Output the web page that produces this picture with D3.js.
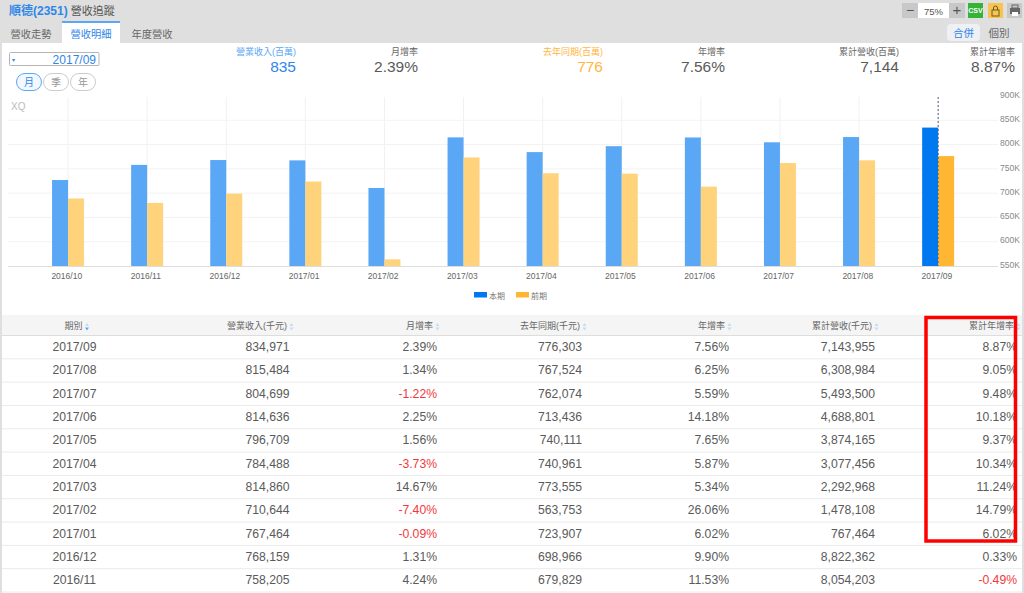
<!DOCTYPE html>
<html>
<head>
<meta charset="utf-8">
<script src="https://cdn.jsdelivr.net/npm/d3@7"></script>
<style>
  html, body { margin: 0; padding: 0; background: #fff; overflow: hidden; }
  svg { display: block; }
  text { font-family: "Liberation Sans", "Noto Sans CJK TC", sans-serif; }
</style>
</head>
<body>
<div id="chart"></div>
<script>
const months = ['2016/10', '2016/11', '2016/12', '2017/01', '2017/02', '2017/03', '2017/04', '2017/05', '2017/06', '2017/07', '2017/08', '2017/09'];
const currentValues = [727000, 758205, 768159, 767464, 710644, 814860, 784488, 796709, 814636, 804699, 815484, 834971];
const previousValues = [689000, 679829, 698966, 723907, 563753, 773555, 740961, 740111, 713436, 762074, 767524, 776303];
const yTicks = [550000, 600000, 650000, 700000, 750000, 800000, 850000, 900000];

const tablePeriods = ['2017/09', '2017/08', '2017/07', '2017/06', '2017/05', '2017/04', '2017/03', '2017/02', '2017/01', '2016/12', '2016/11'];
const tableRevenue = ['834,971', '815,484', '804,699', '814,636', '796,709', '784,488', '814,860', '710,644', '767,464', '768,159', '758,205'];
const tableMonthRate = ['2.39%', '1.34%', '-1.22%', '2.25%', '1.56%', '-3.73%', '14.67%', '-7.40%', '-0.09%', '1.31%', '4.24%'];
const tableLastYear = ['776,303', '767,524', '762,074', '713,436', '740,111', '740,961', '773,555', '563,753', '723,907', '698,966', '679,829'];
const tableYearRate = ['7.56%', '6.25%', '5.59%', '14.18%', '7.65%', '5.87%', '5.34%', '26.06%', '6.02%', '9.90%', '11.53%'];
const tableCumulative = ['7,143,955', '6,308,984', '5,493,500', '4,688,801', '3,874,165', '3,077,456', '2,292,968', '1,478,108', '767,464', '8,822,362', '8,054,203'];
const tableCumRate = ['8.87%', '9.05%', '9.48%', '10.18%', '9.37%', '10.34%', '11.24%', '14.79%', '6.02%', '0.33%', '-0.49%'];

const tableHeaders = ['期別', '營業收入(千元)', '月增率', '去年同期(千元)', '年增率', '累計營收(千元)', '累計年增率'];
const summaryLabels = ['營業收入(百萬)', '月增率', '去年同期(百萬)', '年增率', '累計營收(百萬)', '累計年增率'];
const summaryValues = ['835', '2.39%', '776', '7.56%', '7,144', '8.87%'];

const TEXT = '#5a5a5a';
const BLUE = '#2f86ea';
const ORANGE = '#ffb63f';
const RED = '#f2383c';

const svg = d3.select('#chart').append('svg').attr('width', 1024).attr('height', 593);

const addText = (sel, x, y, str, size, fill, anchor = 'start', weight = 'normal') =>
  sel.append('text').attr('x', x).attr('y', y).attr('font-size', size).attr('fill', fill)
    .attr('text-anchor', anchor).attr('font-weight', weight).text(str);

// page chrome
svg.append('rect').attr('width', 1024).attr('height', 43).attr('fill', '#dfdfdf');
svg.append('rect').attr('y', 43).attr('width', 2).attr('height', 550).attr('fill', '#dfdfdf');
svg.append('rect').attr('x', 1022).attr('y', 43).attr('width', 2).attr('height', 550).attr('fill', '#dfdfdf');

const title = addText(svg, 9, 14.5, '', 12, BLUE, 'start', 'bold');
title.append('tspan').text('順德(2351)');
title.append('tspan').attr('dx', 3).attr('fill', '#555').attr('font-size', 11).attr('font-weight', 'normal').text('營收追蹤');

// tabs
svg.append('rect').attr('x', 62).attr('y', 21).attr('width', 58).attr('height', 22).attr('fill', '#fff');
svg.append('rect').attr('x', 62).attr('y', 21).attr('width', 58).attr('height', 2).attr('fill', '#5aa7f5');
addText(svg, 31, 38, '營收走勢', 10.25, '#666', 'middle');
addText(svg, 91, 38, '營收明細', 10.25, BLUE, 'middle');
addText(svg, 152, 38, '年度營收', 10.25, '#666', 'middle');

// toolbar
const tools = svg.append('g');
tools.append('rect').attr('x', 902).attr('y', 3).attr('width', 16).attr('height', 15).attr('fill', '#c8c8c8');
tools.append('rect').attr('x', 918).attr('y', 3).attr('width', 31).attr('height', 15).attr('fill', '#fff');
tools.append('rect').attr('x', 949).attr('y', 3).attr('width', 16).attr('height', 15).attr('fill', '#c8c8c8');
addText(tools, 910, 15, '−', 14, '#555', 'middle');
addText(tools, 933.5, 14.5, '75%', 9.5, '#555', 'middle');
addText(tools, 957, 15, '+', 15, '#555', 'middle');
tools.append('rect').attr('x', 968).attr('y', 3).attr('width', 15).attr('height', 15).attr('fill', '#36b336');
addText(tools, 975.5, 13, 'CSV', 7, '#fff', 'middle', 'bold');
tools.append('rect').attr('x', 988).attr('y', 3).attr('width', 15).attr('height', 15).attr('fill', '#f7c54f');
tools.append('rect').attr('x', 992).attr('y', 10).attr('width', 7).attr('height', 6).attr('fill', 'none').attr('stroke', '#6b5a20');
tools.append('path').attr('d', 'M993.5,10v-2a2,2 0 0 1 4,0v2').attr('fill', 'none').attr('stroke', '#6b5a20');
tools.append('rect').attr('x', 1007).attr('y', 3).attr('width', 15).attr('height', 15).attr('fill', '#c8c8c8');
tools.append('rect').attr('x', 1010).attr('y', 8).attr('width', 10).attr('height', 6).attr('fill', '#666');
tools.append('rect').attr('x', 1012).attr('y', 5).attr('width', 6).attr('height', 3).attr('fill', 'none').attr('stroke', '#666');
tools.append('rect').attr('x', 1012).attr('y', 12).attr('width', 6).attr('height', 4).attr('fill', '#fff');

svg.append('rect').attr('x', 947).attr('y', 24).attr('width', 33).attr('height', 17).attr('rx', 4).attr('fill', '#eef0f4');
addText(svg, 963.5, 37, '合併', 10.5, BLUE, 'middle');
addText(svg, 999, 37, '個別', 10.5, '#666', 'middle');

// period picker
svg.append('rect').attr('x', 9.5).attr('y', 52.5).attr('width', 89.5).attr('height', 13).attr('rx', 1).attr('fill', '#fff').attr('stroke', '#b5b5b5');
addText(svg, 12, 62, '▾', 6, BLUE);
addText(svg, 96, 63.5, '2017/09', 12, BLUE, 'end');

const periodButtons = [['月', 29, true], ['季', 56, false], ['年', 83, false]];
periodButtons.forEach(([label, cx, active]) => {
  svg.append('rect').attr('x', cx - 12.5).attr('y', 73.5).attr('width', 25).attr('height', 17).attr('rx', 8.5)
    .attr('fill', active ? '#f2f8fe' : '#fff').attr('stroke', active ? '#5aa7f5' : '#ccc');
  addText(svg, cx, 86, label, 10, active ? BLUE : '#999', 'middle');
});

// summary row
const summaryRight = [296, 418, 603, 725, 899, 1015];
summaryLabels.forEach((label, i) => {
  const color = i === 0 ? '#5aa7f5' : i === 2 ? ORANGE : '#666';
  const valueColor = i === 0 ? BLUE : i === 2 ? ORANGE : TEXT;
  addText(svg, summaryRight[i], 54.5, label, 9, color, 'end');
  addText(svg, summaryRight[i], 72, summaryValues[i], 15.5, valueColor, 'end');
});

// bar chart
const plot = { left: 28.5, right: 977.7, top: 96, bottom: 266 };
const x = d3.scaleBand().domain(months).range([plot.left, plot.right]);
const y = d3.scaleLinear().domain([550000, 900000]).range([plot.bottom, plot.top]);
const barWidth = 16;

addText(svg, 11, 110, 'XQ', 10, '#bbb');

svg.append('g').selectAll('line').data(months).join('line')
  .attr('x1', d => x(d) + x.bandwidth() / 2).attr('x2', d => x(d) + x.bandwidth() / 2)
  .attr('y1', 97).attr('y2', plot.bottom).attr('stroke', '#f1f1f1');

svg.append('g').selectAll('line').data(yTicks.slice(1, -1)).join('line')
  .attr('x1', 8).attr('x2', 998).attr('y1', d => y(d)).attr('y2', d => y(d)).attr('stroke', '#f3f3f3');

const last = months[months.length - 1];
svg.append('g').selectAll('rect').data(months).join('rect')
  .attr('x', d => x(d) + x.bandwidth() / 2 - barWidth)
  .attr('y', (d, i) => y(currentValues[i]))
  .attr('width', barWidth)
  .attr('height', (d, i) => plot.bottom - y(currentValues[i]))
  .attr('fill', d => d === last ? '#0078f0' : '#5aa8f5');

svg.append('g').selectAll('rect').data(months).join('rect')
  .attr('x', d => x(d) + x.bandwidth() / 2)
  .attr('y', (d, i) => y(previousValues[i]))
  .attr('width', barWidth)
  .attr('height', (d, i) => plot.bottom - y(previousValues[i]))
  .attr('fill', d => d === last ? '#ffb733' : '#ffd27c');

// crosshair on the selected month
svg.append('line')
  .attr('x1', x(last) + x.bandwidth() / 2).attr('x2', x(last) + x.bandwidth() / 2)
  .attr('y1', 97).attr('y2', plot.bottom)
  .attr('stroke', '#556080').attr('stroke-dasharray', '2,2');

const xAxis = svg.append('g').attr('transform', `translate(-1.3,${plot.bottom})`)
  .call(d3.axisBottom(x).tickSize(0).tickPadding(6.5));
xAxis.select('.domain').remove();
xAxis.selectAll('text').attr('font-size', 8.5).attr('fill', '#666')
  .style('font-family', '"Liberation Sans", sans-serif');
svg.append('line').attr('x1', 8).attr('x2', 998).attr('y1', plot.bottom + 0.5).attr('y2', plot.bottom + 0.5).attr('stroke', '#ddd');

// labels sit a little above their gridlines
const yAxis = svg.append('g').attr('transform', 'translate(1000,-1.5)')
  .call(d3.axisRight(y).tickValues(yTicks).tickSize(0).tickPadding(0).tickFormat(d => `${d / 1000}K`));
yAxis.select('.domain').remove();
yAxis.selectAll('text').attr('font-size', 8.5).attr('fill', '#888')
  .style('font-family', '"Liberation Sans", sans-serif');

// legend
svg.append('rect').attr('x', 474).attr('y', 292).attr('width', 13).attr('height', 5.5).attr('fill', '#0078f0');
addText(svg, 489, 298.5, '本期', 8, '#777');
svg.append('rect').attr('x', 516).attr('y', 292).attr('width', 13).attr('height', 5.5).attr('fill', '#ffb733');
addText(svg, 531, 298.5, '前期', 8, '#777');

// table
const colRight = [99, 289.5, 437, 582, 729, 875, 1017];
const columns = [tablePeriods, tableRevenue, tableMonthRate, tableLastYear, tableYearRate, tableCumulative, tableCumRate];
const headerRight = [82.5, 287, 433, 580, 725, 872, 1014];
const rowY = d3.scaleBand().domain(tablePeriods).range([335, 591.5]);

svg.append('rect').attr('x', 2).attr('y', 315).attr('width', 1020).attr('height', 20).attr('fill', '#f5f5f5');
svg.append('line').attr('x1', 2).attr('x2', 1022).attr('y1', 335.5).attr('y2', 335.5).attr('stroke', '#ddd');

tableHeaders.forEach((label, i) => {
  addText(svg, headerRight[i], 329, label, 9, '#666', 'end');
  const sx = headerRight[i] + 4.5;
  const sorted = i === 0;
  svg.append('path').attr('d', `M${sx - 2},326h4l-2,-3z`).attr('fill', '#c6dcf2');
  svg.append('path').attr('d', `M${sx - 2},327.5h4l-2,3z`).attr('fill', sorted ? '#5aa7f5' : '#c6dcf2');
});

const rows = svg.append('g').selectAll('g').data(tablePeriods).join('g')
  .attr('transform', d => `translate(0,${rowY(d)})`);

rows.append('line').attr('x1', 2).attr('x2', 1022)
  .attr('y1', rowY.bandwidth() + 0.5).attr('y2', rowY.bandwidth() + 0.5).attr('stroke', '#ebebeb');

columns.forEach((values, c) => {
  rows.append('text')
    .attr('x', c === 0 ? 74.5 : colRight[c])
    .attr('y', 16)
    .attr('text-anchor', c === 0 ? 'middle' : 'end')
    .attr('font-size', 12.2)
    .attr('fill', (d, i) => values[i].startsWith('-') ? RED : TEXT)
    .text((d, i) => values[i]);
});

// red highlight around the last column
svg.append('rect').attr('x', 926).attr('y', 317.5).attr('width', 89.5).attr('height', 223.5)
  .attr('fill', 'none').attr('stroke', '#f00').attr('stroke-width', 3.5);
</script>
</body>
</html>
